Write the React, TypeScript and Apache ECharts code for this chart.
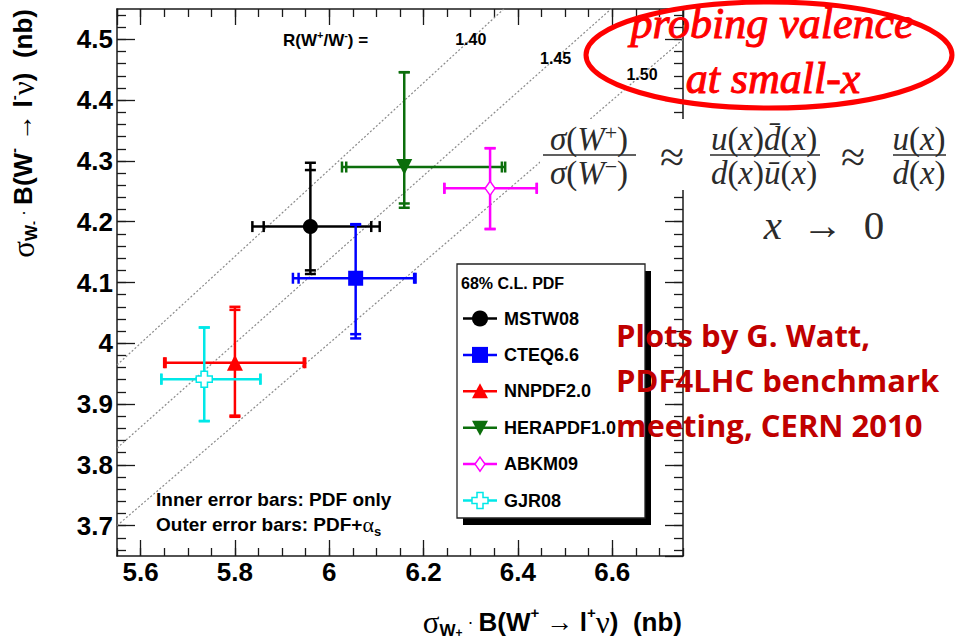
import React, { useEffect, useRef } from 'react';
import * as echarts from 'echarts';

// ---------- data ----------
const pdfSets = ['MSTW08', 'CTEQ6.6', 'NNPDF2.0', 'HERAPDF1.0', 'ABKM09', 'GJR08'];
const xCentral = [5.960, 6.056, 5.800, 6.159, 6.341, 5.735];
const yCentral = [4.192, 4.107, 3.968, 4.290, 4.255, 3.941];
const xInnerLow = [5.861, 5.935, 5.653, 6.036, 6.244, 5.644];
const xInnerHigh = [6.089, 6.180, 5.946, 6.366, 6.440, 5.854];
const xOuterLow = [5.837, 5.923, 5.650, 6.027, 6.244, 5.644];
const xOuterHigh = [6.107, 6.183, 5.949, 6.373, 6.440, 5.854];
const yInnerLow = [4.120, 4.015, 3.881, 4.230, 4.188, 3.872];
const yInnerHigh = [4.285, 4.195, 4.055, 4.446, 4.321, 4.026];
const yOuterLow = [4.114, 4.008, 3.879, 4.223, 4.188, 3.872];
const yOuterHigh = [4.297, 4.196, 4.060, 4.446, 4.321, 4.026];
const ratioLines = [1.40, 1.45, 1.50];
const ratioLabelLevels = [4.5, 4.469, 4.442];

// ---------- axis ranges ----------
const X_MIN = 5.55;
const X_MAX = 6.75;
const Y_MIN = 3.65;
const Y_MAX = 4.55;
const Y_MINOR_MIN = 3.66;
const Y_MINOR_MAX = 4.54;

// ---------- layout / styles ----------
const W = 955;
const H = 641;
const GRID = { left: 117, right: 272, top: 9, bottom: 85 };
const SANS = "'Liberation Sans', Arial, sans-serif";
const SERIF = "'Liberation Serif', 'Times New Roman', serif";
const FRAME = '#1a1a1a';
const crossPath = 'path://M3,0L7,0L7,3L10,3L10,7L7,7L7,10L3,10L3,7L0,7L0,3L3,3Z';

const setStyles: any[] = [
  { color: '#000000', symbol: 'circle', size: 15, open: false, rotate: 0, kind: 'circle' },
  { color: '#0000ff', symbol: 'rect', size: 15, open: false, rotate: 0, kind: 'rect' },
  { color: '#ff0000', symbol: 'triangle', size: 16, open: false, rotate: 0, kind: 'up' },
  { color: '#0b6e0b', symbol: 'triangle', size: 16, open: false, rotate: 180, kind: 'down' },
  { color: '#ff00ff', symbol: 'diamond', size: [10, 14], open: true, rotate: 0, kind: 'diamond' },
  { color: '#00e8e8', symbol: crossPath, size: 16, open: true, rotate: 0, kind: 'cross' },
];

function legendMarker(kind: string, cx: number, cy: number, color: string): any {
  const z = 61;
  if (kind === 'circle') return { type: 'circle', z, shape: { cx, cy, r: 8 }, style: { fill: color } };
  if (kind === 'rect') return { type: 'rect', z, shape: { x: cx - 8, y: cy - 8, width: 16, height: 16 }, style: { fill: color } };
  if (kind === 'up') return { type: 'polygon', z, shape: { points: [[cx, cy - 8], [cx + 8, cy + 7], [cx - 8, cy + 7]] }, style: { fill: color } };
  if (kind === 'down') return { type: 'polygon', z, shape: { points: [[cx - 8, cy - 7], [cx + 8, cy - 7], [cx, cy + 8]] }, style: { fill: color } };
  if (kind === 'diamond') return { type: 'polygon', z, shape: { points: [[cx, cy - 7], [cx + 5, cy], [cx, cy + 7], [cx - 5, cy]] }, style: { fill: '#fff', stroke: color, lineWidth: 1.5 } };
  const a = 3, b = 8;
  return {
    type: 'polygon', z,
    shape: { points: [[cx - a, cy - b], [cx + a, cy - b], [cx + a, cy - a], [cx + b, cy - a], [cx + b, cy + a], [cx + a, cy + a], [cx + a, cy + b], [cx - a, cy + b], [cx - a, cy + a], [cx - b, cy + a], [cx - b, cy - a], [cx - a, cy - a]] },
    style: { fill: '#fff', stroke: color, lineWidth: 1.5 },
  };
}

function buildOption(): any {
  const plotH = H - GRID.top - GRID.bottom;
  const pad = ((Y_MINOR_MIN - Y_MIN) / (Y_MAX - Y_MIN)) * plotH;
  const padTop = ((Y_MAX - Y_MINOR_MAX) / (Y_MAX - Y_MIN)) * plotH;

  const tickLabel = { fontFamily: SANS, fontSize: 26, fontWeight: 'bold', color: '#000' };
  const axisLine = { show: true, onZero: false, lineStyle: { color: FRAME, width: 1.5 } };

  const xAxis: any[] = [
    {
      gridIndex: 0, type: 'value', position: 'bottom', min: X_MIN, max: X_MAX,
      axisLine, splitLine: { show: false },
      axisTick: { show: true, inside: true, length: 16, lineStyle: { color: FRAME, width: 1.3 } },
      axisLabel: { show: true, showMinLabel: false, showMaxLabel: false, margin: 3, ...tickLabel },
    },
    {
      gridIndex: 0, type: 'value', position: 'top', min: X_MIN, max: X_MAX,
      axisLine, splitLine: { show: false },
      axisTick: { show: true, inside: true, length: 16, lineStyle: { color: FRAME, width: 1.3 } },
      axisLabel: { show: false },
    },
    {
      gridIndex: 0, type: 'value', position: 'bottom', min: X_MIN, max: X_MAX, interval: 0.05,
      axisLine: { show: false, onZero: false }, splitLine: { show: false },
      axisTick: { show: true, inside: true, length: 8, lineStyle: { color: FRAME, width: 1.3 } },
      axisLabel: { show: false },
    },
    {
      gridIndex: 0, type: 'value', position: 'top', min: X_MIN, max: X_MAX, interval: 0.05,
      axisLine: { show: false, onZero: false }, splitLine: { show: false },
      axisTick: { show: true, inside: true, length: 8, lineStyle: { color: FRAME, width: 1.3 } },
      axisLabel: { show: false },
    },
    { gridIndex: 1, type: 'value', min: X_MIN, max: X_MAX, show: false },
  ];

  const yAxis: any[] = [
    {
      gridIndex: 0, type: 'value', position: 'left', min: Y_MIN, max: Y_MAX, splitNumber: 9,
      axisLine, splitLine: { show: false },
      axisTick: { show: true, inside: true, length: 18, lineStyle: { color: FRAME, width: 1.3 } },
      axisLabel: { show: true, showMinLabel: false, showMaxLabel: false, margin: 4, ...tickLabel },
    },
    {
      gridIndex: 0, type: 'value', position: 'right', min: Y_MIN, max: Y_MAX, splitNumber: 9,
      axisLine, splitLine: { show: false },
      axisTick: { show: true, inside: true, length: 18, lineStyle: { color: FRAME, width: 1.3 } },
      axisLabel: { show: false },
    },
    {
      gridIndex: 1, type: 'value', position: 'left', min: Y_MINOR_MIN, max: Y_MINOR_MAX, interval: 0.02,
      axisLine: { show: false, onZero: false }, splitLine: { show: false },
      axisTick: { show: true, inside: true, length: 9, lineStyle: { color: FRAME, width: 1.3 } },
      axisLabel: { show: false },
    },
    {
      gridIndex: 1, type: 'value', position: 'right', min: Y_MINOR_MIN, max: Y_MINOR_MAX, interval: 0.02,
      axisLine: { show: false, onZero: false }, splitLine: { show: false },
      axisTick: { show: true, inside: true, length: 9, lineStyle: { color: FRAME, width: 1.3 } },
      axisLabel: { show: false },
    },
  ];

  const series: any[] = [];

  // iso-ratio dotted lines
  ratioLines.forEach((r) => {
    series.push({
      type: 'line', xAxisIndex: 0, yAxisIndex: 0, silent: true, clip: true,
      showSymbol: false, symbol: 'none',
      data: [[X_MIN, X_MIN / r], [X_MAX, X_MAX / r]],
      lineStyle: { color: '#8a8a8a', width: 1.2, type: [2, 2] },
      z: 1,
    });
  });

  // ratio labels
  series.push({
    type: 'scatter', xAxisIndex: 0, yAxisIndex: 0, silent: true,
    symbolSize: 2, itemStyle: { color: 'rgba(0,0,0,0)' },
    data: ratioLines.map((r, i) => [ratioLabelLevels[i] * r, ratioLabelLevels[i], r]),
    label: {
      show: true, position: 'inside', formatter: (p: any) => Number(p.value[2]).toFixed(2),
      fontFamily: SANS, fontSize: 16, fontWeight: 'bold', color: '#000', opacity: 1,
    },
    z: 3,
  });

  // error bars
  pdfSets.forEach((name, i) => {
    const st = setStyles[i];
    series.push({
      type: 'custom', name: name + ' errors', xAxisIndex: 0, yAxisIndex: 0, silent: true,
      encode: { x: 0, y: 1 },
      data: [[xCentral[i], yCentral[i], xInnerLow[i], xInnerHigh[i], xOuterLow[i], xOuterHigh[i],
        yInnerLow[i], yInnerHigh[i], yOuterLow[i], yOuterHigh[i]]],
      renderItem: (params: any, api: any) => {
        const v = (k: number) => api.value(k);
        const c = api.coord([v(0), v(1)]);
        const xs = [2, 3, 4, 5].map((k) => api.coord([v(k), v(1)])[0]);
        const ys = [6, 7, 8, 9].map((k) => api.coord([v(0), v(k)])[1]);
        const style = { stroke: st.color, lineWidth: 2.5 };
        const h = 5.5;
        const children: any[] = [
          { type: 'line', shape: { x1: Math.min(...xs), y1: c[1], x2: Math.max(...xs), y2: c[1] }, style },
          { type: 'line', shape: { x1: c[0], y1: Math.min(...ys), x2: c[0], y2: Math.max(...ys) }, style },
        ];
        xs.forEach((x) => children.push({ type: 'line', shape: { x1: x, y1: c[1] - h, x2: x, y2: c[1] + h }, style }));
        ys.forEach((y) => children.push({ type: 'line', shape: { x1: c[0] - h, y1: y, x2: c[0] + h, y2: y }, style }));
        return { type: 'group', children };
      },
      z: 2,
    });
  });

  // markers
  pdfSets.forEach((name, i) => {
    const st = setStyles[i];
    series.push({
      type: 'scatter', name, xAxisIndex: 0, yAxisIndex: 0,
      symbol: st.symbol, symbolSize: st.size, symbolRotate: st.rotate,
      itemStyle: st.open ? { color: '#ffffff', borderColor: st.color, borderWidth: 1.5, opacity: 1 } : { color: st.color, opacity: 1 },
      data: [[xCentral[i], yCentral[i]]],
      z: 4,
    });
  });

  // ---------- graphics ----------
  const g: any[] = [];

  // legend box
  const LX = 457, LY = 264, LW = 188, LH = 254;
  g.push({ type: 'rect', z: 58, shape: { x: LX + 6, y: LY + 7, width: LW, height: LH }, style: { fill: '#000' } });
  g.push({ type: 'rect', z: 59, shape: { x: LX, y: LY, width: LW, height: LH }, style: { fill: '#fff', stroke: '#222', lineWidth: 1.3 } });
  g.push({ type: 'text', z: 60, x: 461, y: 283, style: { text: '68% C.L. PDF', font: `bold 16px ${SANS}`, fill: '#000', align: 'left', verticalAlign: 'middle' } });
  pdfSets.forEach((name, i) => {
    const st = setStyles[i];
    const y = 318.5 + i * 36.4;
    g.push({ type: 'line', z: 60, shape: { x1: 463, y1: y, x2: 497, y2: y }, style: { stroke: st.color, lineWidth: 2.5 } });
    g.push(legendMarker(st.kind, 480, y, st.color));
    g.push({ type: 'text', z: 60, x: 504, y, style: { text: name, font: `bold 18px ${SANS}`, fill: '#000', align: 'left', verticalAlign: 'middle' } });
  });

  // R(W+/W-) =
  g.push({
    type: 'text', z: 60, x: 283, y: 40,
    style: {
      text: '{b|R(W}{sup|+}{b|/W}{sup|-}{b|) =}', align: 'left', verticalAlign: 'middle', fill: '#000',
      rich: {
        b: { fontFamily: SANS, fontWeight: 'bold', fontSize: 17, lineHeight: 22, fill: '#000' },
        sup: { fontFamily: SANS, fontWeight: 'bold', fontSize: 11, lineHeight: 15, verticalAlign: 'top', fill: '#000' },
      },
    },
  });

  // inner/outer notes
  g.push({ type: 'text', z: 60, x: 156, y: 499, style: { text: 'Inner error bars: PDF only', font: `bold 19px ${SANS}`, fill: '#000', align: 'left', verticalAlign: 'middle' } });
  g.push({
    type: 'text', z: 60, x: 156, y: 524,
    style: {
      text: '{b|Outer error bars: PDF+}{g|α}{sub|s}', align: 'left', verticalAlign: 'middle', fill: '#000',
      rich: {
        b: { fontFamily: SANS, fontWeight: 'bold', fontSize: 19, lineHeight: 28, fill: '#000' },
        g: { fontFamily: SERIF, fontSize: 22, lineHeight: 28, fill: '#000' },
        sub: { fontFamily: SANS, fontWeight: 'bold', fontSize: 13, lineHeight: 16, verticalAlign: 'bottom', fill: '#000' },
      },
    },
  });

  // axis titles
  const titleRich = (sign: string) => ({
    text: `{s|σ}{sub|W}{subsup|${sign}}{d| · }{b|B(W}{sup|${sign}}{a| → }{b|l}{sup|${sign}}{s|ν}{b|)  (nb)}`,
    fill: '#000',
    rich: {
      b: { fontFamily: SANS, fontWeight: 'bold', fontSize: 26, lineHeight: 34, fill: '#000' },
      s: { fontFamily: SERIF, fontSize: 31, lineHeight: 34, fill: '#000' },
      d: { fontFamily: SANS, fontSize: 18, lineHeight: 34, fill: '#000' },
      a: { fontFamily: SERIF, fontSize: 27, lineHeight: 34, fill: '#000' },
      sub: { fontFamily: SANS, fontWeight: 'bold', fontSize: 17, lineHeight: 22, verticalAlign: 'bottom', fill: '#000' },
      subsup: { fontFamily: SANS, fontWeight: 'bold', fontSize: 12, lineHeight: 30, verticalAlign: 'bottom', fill: '#000' },
      sup: { fontFamily: SANS, fontWeight: 'bold', fontSize: 15, lineHeight: 25, verticalAlign: 'top', fill: '#000' },
    },
  });
  g.push({ type: 'text', z: 60, x: 682, y: 622, style: { ...titleRich('+'), align: 'right', verticalAlign: 'middle' } });
  g.push({ type: 'text', z: 60, x: 23, y: 9, rotation: Math.PI / 2, style: { ...titleRich('-'), align: 'right', verticalAlign: 'middle' } });

  // formula panel
  const fc = '#2b2b2b';
  const fRich = {
    i: { fontFamily: SERIF, fontStyle: 'italic', fontSize: 33, lineHeight: 36, fill: fc },
    r: { fontFamily: SERIF, fontSize: 33, lineHeight: 36, fill: fc },
    sup: { fontFamily: SERIF, fontSize: 22, lineHeight: 28, verticalAlign: 'top', fill: fc },
  };
  g.push({ type: 'rect', z: 70, shape: { x: 540, y: 119, width: 415, height: 71 }, style: { fill: '#fff' } });
  const frac = (cx: number, x1: number, x2: number, num: string, den: string) => {
    g.push({ type: 'text', z: 71, x: cx, y: 139, style: { text: num, rich: fRich, fill: fc, align: 'center', verticalAlign: 'middle' } });
    g.push({ type: 'line', z: 71, shape: { x1, y1: 155, x2, y2: 155 }, style: { stroke: fc, lineWidth: 1.5 } });
    g.push({ type: 'text', z: 71, x: cx, y: 173, style: { text: den, rich: fRich, fill: fc, align: 'center', verticalAlign: 'middle' } });
  };
  frac(589, 543, 636, '{i|σ}{r|(}{i|W}{sup|+}{r|)}', '{i|σ}{r|(}{i|W}{sup|−}{r|)}');
  frac(764, 710, 820, '{i|u}{r|(}{i|x}{r|)}{i|d\u0304}{r|(}{i|x}{r|)}', '{i|d}{r|(}{i|x}{r|)}{i|u\u0304}{r|(}{i|x}{r|)}');
  frac(919, 893, 946, '{i|u}{r|(}{i|x}{r|)}', '{i|d}{r|(}{i|x}{r|)}');
  g.push({ type: 'text', z: 71, x: 672, y: 157, style: { text: '≈', font: `44px ${SERIF}`, fill: fc, align: 'center', verticalAlign: 'middle' } });
  g.push({ type: 'text', z: 71, x: 853, y: 157, style: { text: '≈', font: `44px ${SERIF}`, fill: fc, align: 'center', verticalAlign: 'middle' } });
  g.push({
    type: 'text', z: 71, x: 824, y: 225,
    style: {
      text: '{i|x}{r|  →  0}', align: 'center', verticalAlign: 'middle', fill: fc,
      rich: {
        i: { fontFamily: SERIF, fontStyle: 'italic', fontSize: 41, lineHeight: 44, fill: fc },
        r: { fontFamily: SERIF, fontSize: 41, lineHeight: 44, fill: fc },
      },
    },
  });

  // red ellipse note
  g.push({ type: 'ellipse', z: 80, shape: { cx: 769, cy: 55, rx: 183, ry: 53 }, style: { fill: 'none', stroke: '#ff0000', lineWidth: 5 } });
  const redRich = { t: { fontFamily: SERIF, fontStyle: 'italic', fontSize: 44, lineHeight: 40, fill: '#ff0000', stroke: '#ff0000', lineWidth: 1 } };
  g.push({ type: 'text', z: 81, x: 772, y: 23, style: { text: '{t|probing valence}', rich: redRich, fill: '#ff0000', align: 'center', verticalAlign: 'middle' } });
  g.push({ type: 'text', z: 81, x: 773, y: 78, style: { text: '{t|at small-x}', rich: redRich, fill: '#ff0000', align: 'center', verticalAlign: 'middle' } });

  // credit note
  const credit = ['Plots by G. Watt,', 'PDF4LHC benchmark', 'meeting, CERN 2010'];
  credit.forEach((t, i) => {
    g.push({ type: 'text', z: 90, x: 616, y: 335 + i * 45, style: { text: t, font: `bold 31px 'Open Sans', sans-serif`, fill: '#c00000', align: 'left', verticalAlign: 'middle' } });
  });

  return {
    animation: false,
    backgroundColor: '#ffffff',
    textStyle: { fontFamily: SANS },
    grid: [
      { left: GRID.left, right: GRID.right, top: GRID.top, bottom: GRID.bottom, containLabel: false },
      { left: GRID.left, right: GRID.right, top: GRID.top + padTop, bottom: GRID.bottom + pad, containLabel: false },
    ],
    xAxis,
    yAxis,
    series,
    graphic: { elements: g },
  };
}

export default function App() {
  const ref = useRef<HTMLDivElement>(null);
  useEffect(() => {
    if (!ref.current) return;
    const chart = echarts.init(ref.current, null, { renderer: 'svg' });
    chart.setOption(buildOption());
    return () => chart.dispose();
  }, []);
  return <div ref={ref} style={{ position: 'absolute', left: 0, top: 0, width: W, height: H }} />;
}
